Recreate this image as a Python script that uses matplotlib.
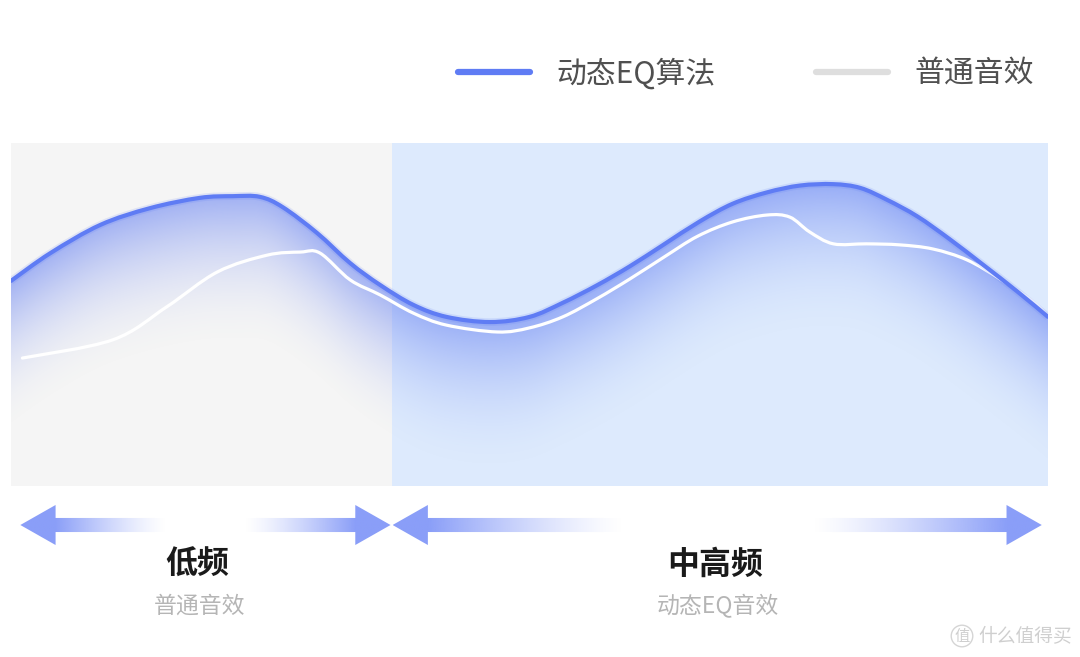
import numpy as np
import matplotlib.pyplot as plt
from matplotlib.lines import Line2D
from matplotlib.patches import Polygon, PathPatch
from matplotlib.path import Path
from matplotlib.colors import to_rgb

plt.rcParams['font.family'] = ['Noto Sans CJK SC', 'DejaVu Sans']

# position along the frequency axis (0 = left edge, 100 = right edge) and level of each curve
eq_x = [0.0, 3.8, 8.6, 13.4, 18.2, 21.4, 24.0, 26.2, 29.5, 32.7, 35.6, 38.8, 42.0, 46.2, 50.0, 53.2,
        56.5, 59.7, 62.9, 66.4, 69.6, 72.9, 76.1, 79.3, 81.9, 84.5, 87.4, 90.5, 93.7, 97.0, 100.0]
eq_y = [59.8, 67.9, 76.1, 81.0, 84.0, 84.5, 84.3, 81.3, 73.8, 65.0, 58.6, 52.8, 49.3, 47.8, 49.3, 53.4,
        58.5, 64.1, 70.3, 77.1, 82.3, 85.6, 87.6, 88.0, 86.9, 83.4, 78.6, 72.0, 64.6, 56.8, 49.3]

std_x = [1.1, 9.8, 15.0, 19.9, 24.7, 27.9, 29.8, 32.7, 35.6, 38.8, 42.0, 46.9, 50.0, 53.2, 56.5,
         59.7, 62.9, 66.2, 69.6, 72.9, 75.1, 77.0, 79.3, 82.5, 85.7, 88.9, 92.2, 95.4, 98.6, 100.0]
std_y = [37.3, 42.6, 52.2, 62.4, 67.3, 68.2, 67.9, 60.1, 55.7, 50.4, 46.9, 44.9, 46.1, 49.3, 54.6,
         60.4, 66.6, 72.8, 77.0, 79.0, 78.4, 74.1, 70.6, 70.6, 70.3, 69.1, 65.9, 60.3, 53.6, 49.3]

series_names = ["动态EQ算法", "普通音效"]

band_edges = [0.0, 36.7, 100.0]
band_names = ["低频", "中高频"]
band_modes = ["普通音效", "动态EQ音效"]

BLEU = "#5f7cf4"
BLEU_FLECHE = "#8a9ef8"
FONDS = ["#f5f5f5", "#ddeafd"]


def chemin_lisse(xs, ys):
    # courbe de Bezier passant par les points lus (Catmull-Rom)
    p = np.column_stack([xs, ys]).astype(float)
    q = np.vstack([p[0], p, p[-1]])
    verts = [p[0]]
    codes = [Path.MOVETO]
    for i in range(len(p) - 1):
        c1 = q[i + 1] + (q[i + 2] - q[i]) / 6
        c2 = q[i + 2] - (q[i + 3] - q[i + 1]) / 6
        verts += [c1, c2, q[i + 2]]
        codes += [Path.CURVE4] * 3
    return Path(np.array(verts), codes)


def echantillonner(chemin, n=40):
    v = chemin.vertices
    pts = [v[0]]
    t = np.linspace(0, 1, n)[1:, None]
    for i in range(1, len(v), 3):
        p0, p1, p2, p3 = v[i - 1], v[i], v[i + 1], v[i + 2]
        pts.extend((1 - t) ** 3 * p0 + 3 * (1 - t) ** 2 * t * p1 + 3 * (1 - t) * t ** 2 * p2 + t ** 3 * p3)
    pts = np.array(pts)
    return pts[:, 0], pts[:, 1]


fig = plt.figure(figsize=(10.8, 6.57), dpi=100)
fig.patch.set_facecolor("white")

L, W = 11 / 1080, 1037 / 1080
ax = fig.add_axes([L, (657 - 486) / 657, W, 343 / 657])

for i in range(len(band_names)):
    ax.axvspan(band_edges[i], band_edges[i + 1], color=FONDS[i], lw=0, zorder=0)

chemin_eq = chemin_lisse(eq_x, eq_y)
chemin_std = chemin_lisse(std_x, std_y)

# degrade sous la courbe EQ
cx, cy = echantillonner(chemin_eq)
gx = np.linspace(0, 100, 1040)
gy = np.linspace(0, 100, 344)
haut = np.interp(gx, cx, cy)
prof = haut[None, :] - gy[:, None]
alpha = np.clip(1 - prof / 45, 0, 1) ** 2 * 0.6
alpha[prof < 0] = 0
img = np.zeros((len(gy), len(gx), 4))
img[..., :3] = to_rgb("#6a84f2")
img[..., 3] = alpha
ax.imshow(img, extent=(0, 100, 0, 100), origin="lower", aspect="auto",
          interpolation="bilinear", zorder=1)

ax.add_patch(PathPatch(chemin_std, fc="none", ec="white", lw=2.3, capstyle="round", zorder=3))
ax.add_patch(PathPatch(chemin_eq, fc="none", ec=BLEU, lw=5.5, alpha=0.15, zorder=4))
ax.add_patch(PathPatch(chemin_eq, fc="none", ec=BLEU, lw=3.0, capstyle="round", zorder=5))

ax.set_xlim(0, 100)
ax.set_ylim(0, 100)
ax.axis("off")

# fleches des bandes
ax2 = fig.add_axes([L, (657 - 547) / 657, W, 44 / 657])
ax2.set_xlim(0, 100)
ax2.set_ylim(-1, 1)
ax2.axis("off")

tete_l, tete_h, corps_h = 3.4, 0.91, 0.32
for i in range(len(band_names)):
    a = band_edges[i] + (0.9 if band_edges[i] == 0 else 0.1)
    b = band_edges[i + 1] - (0.6 if band_edges[i + 1] == 100 else 0.1)
    pts = [(a, 0), (a + tete_l, tete_h), (a + tete_l, corps_h), (b - tete_l, corps_h),
           (b - tete_l, tete_h), (b, 0), (b - tete_l, -tete_h), (b - tete_l, -corps_h),
           (a + tete_l, -corps_h), (a + tete_l, -tete_h)]
    poly = Polygon(pts, closed=True, fc="none", ec="none")
    ax2.add_patch(poly)
    xs = np.linspace(a, b, 600)
    fondu = 0.3 * (b - a)
    g = np.clip(1 - (xs - (a + tete_l)) / fondu, 0, 1)
    d = np.clip(1 - ((b - tete_l) - xs) / fondu, 0, 1)
    ligne = np.zeros((1, len(xs), 4))
    ligne[..., :3] = to_rgb(BLEU_FLECHE)
    ligne[..., 3] = np.maximum(g, d) ** 1.3
    im = ax2.imshow(ligne, extent=(a, b, -1, 1), aspect="auto", interpolation="bilinear")
    im.set_clip_path(poly)

    centre = (band_edges[i] + band_edges[i + 1]) / 2
    ax.text(centre - 0.4, -0.230, band_names[i], transform=ax.get_xaxis_transform(), ha="center",
            va="center", fontsize=23, fontweight="bold", color="#1a1a1a")
    ax.text(centre - 0.2, -0.350, band_modes[i], transform=ax.get_xaxis_transform(), ha="center",
            va="center", fontsize=16.5, color="#b5b5b5")

handles = [Line2D([], [], color=BLEU, lw=4.5, solid_capstyle="round"),
           Line2D([], [], color="#dedede", lw=4.5, solid_capstyle="round")]
fig.legend(handles, series_names, loc="center right", bbox_to_anchor=(1034 / 1080, 1 - 74 / 657),
           ncol=2, frameon=False, fontsize=21.5, handlelength=2.4, handletextpad=0.9,
           columnspacing=3.35, borderpad=0, borderaxespad=0, labelcolor="#505050")

# filigrane
fig.text(1072 / 1080, 1 - 636 / 657, "什么值得买", ha="right", va="center", fontsize=13.5, color="#cfcfcf")
fig.text(962 / 1080, 1 - 636 / 657, "值", ha="center", va="center", fontsize=11, color="#cfcfcf",
         bbox=dict(boxstyle="circle,pad=0.15", fc="none", ec="#d5d5d5", lw=1))

fig.savefig("out.png", dpi=100, facecolor="white")
